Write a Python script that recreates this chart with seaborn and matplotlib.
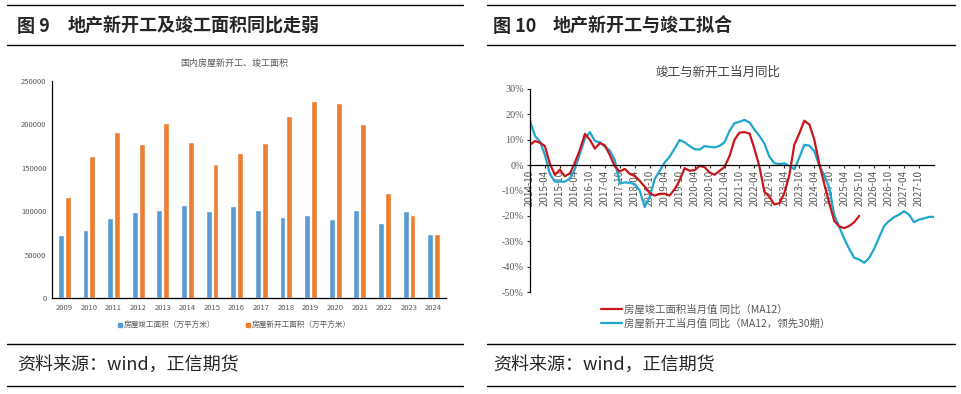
import pandas as pd
import seaborn as sns
import matplotlib.pyplot as plt
from matplotlib.lines import Line2D

# ---- figure 9 data: yearly floor area (10k m2)
years = [str(y) for y in range(2009, 2025)]
completed = [72677, 78744, 92620, 99425, 101435, 107459, 100039, 106128,
             101486, 93550, 95942, 91218, 101412, 86222, 99831, 73743]
new_starts = [116422, 163647, 191237, 177334, 201208, 179592, 154454, 166928,
              178654, 209342, 227154, 224433, 199894, 120587, 95376, 73893]

# ---- figure 10 data: yoy % read every 2 months, starting 2014-10
completed_yoy = [8, 9.5, 8.8, 7.5, 0.5, -3.8, -1.8, -4.4, -3.2, 1,
                 6, 12.3, 10, 6.5, 8.7, 7.8, 4, -0.5, -2.5, -1.5,
                 -3.5, -4.2, -6.2, -8.5, -11, -12, -11.3, -11.3, -12, -9.5,
                 -6, -1.2, -2.2, -2, -0.3, -0.8, -2.9, -3.8, -2.2, -0.7,
                 3.5, 10, 12.8, 13, 12.5, 6.5, -0.5, -10.5, -12.5, -15.5,
                 -15, -11, -4, 8, 12.5, 17.5, 16, 10, 0.5, -7.5,
                 -15, -22, -24.2, -24.8, -24, -22.5, -20]
starts_yoy_lead30 = [17.5, 11.5, 9.2, 4, -3.5, -6.5, -6.5, -6.5, -5.2, -1.5,
                     4.5, 10.5, 13, 9.5, 9, 7.3, 5.8, 2, -7.3, -6.8,
                     -7, -7.5, -10, -16.5, -12.5, -5.5, -2.2, 1, 3.3, 6.5,
                     9.9, 9, 7.5, 6.3, 6.1, 7.5, 7.2, 7, 7.6, 9,
                     13.5, 16.5, 17.1, 17.8, 16.8, 14, 11.5, 8.5, 3.3, 0.8,
                     0.4, 0.7, -0.3, -1.6, 3, 8, 7.7, 5.5, -0.2, -4,
                     -9, -19.7, -24.5, -29, -33, -36.5, -37.2, -38.5, -36.5, -33,
                     -28.5, -24, -22, -20.5, -19.5, -18.2, -19.5, -22.5, -21.5, -21,
                     -20.4, -20.4]

bar_names = ['房屋竣工面积（万平方米）', '房屋新开工面积（万平方米）']
line_names = ['房屋竣工面积当月值 同比（MA12）', '房屋新开工当月值 同比（MA12，领先30期）']

BLUE, ORANGE = '#5B9BD5', '#ED7D31'
RED, CYAN = '#C8161D', '#1FA6CF'
GREY = '#595959'

sns.set_theme(style='white')
plt.rcParams['font.family'] = ['Noto Sans CJK SC', 'DejaVu Sans']

W, H = 962, 394
fx = lambda x: x / W
fy = lambda y: 1 - y / H

fig = plt.figure(figsize=(W / 100, H / 100), dpi=100)

# rules, headers, sources
for x0, x1 in [(7, 463), (487, 955)]:
    for y in [5, 45, 344, 386]:
        fig.add_artist(Line2D([fx(x0), fx(x1)], [fy(y), fy(y)], color='black', lw=1))
fig.text(fx(17), fy(26), '图 9', fontsize=13, fontweight='bold', va='center')
fig.text(fx(68), fy(26), '地产新开工及竣工面积同比走弱', fontsize=13, fontweight='bold', va='center')
fig.text(fx(493), fy(26), '图 10', fontsize=13, fontweight='bold', va='center')
fig.text(fx(553), fy(26), '地产新开工与竣工拟合', fontsize=13, fontweight='bold', va='center')
for x in [17, 493]:
    fig.text(fx(x), fy(365), '资料来源：wind，正信期货', fontsize=13, va='center')

# ---- left: bars
bars = pd.DataFrame({'year': years * 2,
                     'series': [bar_names[0]] * len(years) + [bar_names[1]] * len(years),
                     'area': completed + new_starts})
ax1 = fig.add_axes([fx(52), fy(298), fx(446 - 52), (298 - 81) / H])
sns.barplot(data=bars, x='year', y='area', hue='series', palette=[BLUE, ORANGE],
            width=0.56, gap=0.14, saturation=1, legend=False, ax=ax1)
ax1.set_xlim(-0.5, 15.5)
ax1.set_ylim(0, 250000)
ax1.set_yticks(range(0, 250001, 50000))
ax1.set_xlabel('')
ax1.set_ylabel('')
ax1.tick_params(axis='both', labelsize=5.5, labelcolor=GREY, length=0, pad=4)
sns.despine(ax=ax1)
for s in ['left', 'bottom']:
    ax1.spines[s].set_color('black')
    ax1.spines[s].set_linewidth(0.9)
fig.text(fx(234), fy(63), '国内房屋新开工、竣工面积', fontsize=6.5, color=GREY, ha='center', va='center')
h1 = [Line2D([], [], marker='s', ls='none', color=c, markersize=3) for c in [BLUE, ORANGE]]
fig.legend(h1, bar_names, loc='center', bbox_to_anchor=(fx(234), fy(326)), ncol=2,
           frameon=False, fontsize=5.5, labelcolor=GREY, handlelength=0.6,
           handletextpad=0.2, columnspacing=4)

# ---- right: lines
red_df = pd.DataFrame({'month': pd.date_range('2014-10-01', periods=len(completed_yoy), freq='2MS'),
                       'yoy': completed_yoy})
cyan_df = pd.DataFrame({'month': pd.date_range('2014-10-01', periods=len(starts_yoy_lead30), freq='2MS'),
                        'yoy': starts_yoy_lead30})
ax2 = fig.add_axes([fx(530), fy(292), fx(934 - 530), (292 - 89) / H])
sns.lineplot(data=cyan_df, x='month', y='yoy', color=CYAN, lw=1.6, ax=ax2)
sns.lineplot(data=red_df, x='month', y='yoy', color=RED, lw=1.6, ax=ax2)
ax2.set_xlim(pd.Timestamp('2014-10-01'), pd.Timestamp('2028-04-01'))
ax2.set_ylim(-50, 30)
ax2.set_yticks(range(-50, 31, 10))
ax2.set_yticklabels([f'{v}%' for v in range(-50, 31, 10)], family='Liberation Serif')
xt = pd.date_range('2014-10-01', '2027-10-01', freq='6MS')
ax2.set_xticks(xt)
ax2.set_xticklabels([d.strftime('%Y-%m') for d in xt], family='Liberation Serif')
ax2.set_xlabel('')
ax2.set_ylabel('')
ax2.tick_params(axis='y', labelsize=7.3, labelcolor=GREY, direction='out', length=2.5, width=0.8, pad=2, left=True)
ax2.tick_params(axis='x', labelsize=7, labelcolor=GREY, direction='out', length=2.5, width=0.8, pad=1,
                bottom=True, labelrotation=90)
sns.despine(ax=ax2)
ax2.spines['bottom'].set_position(('data', 0))
for s in ['left', 'bottom']:
    ax2.spines[s].set_color('black')
    ax2.spines[s].set_linewidth(0.9)
fig.text(fx(718), fy(72), '竣工与新开工当月同比', fontsize=9, color='#404040', ha='center', va='center')
h2 = [Line2D([], [], color=RED, lw=1.6), Line2D([], [], color=CYAN, lw=1.6)]
fig.legend(h2, line_names, loc='upper left', bbox_to_anchor=(fx(596), fy(299)),
           frameon=False, fontsize=7.5, labelcolor=GREY, handlelength=2,
           handletextpad=0.2, labelspacing=0.35, borderpad=0)

fig.savefig('out.png', dpi=100)
